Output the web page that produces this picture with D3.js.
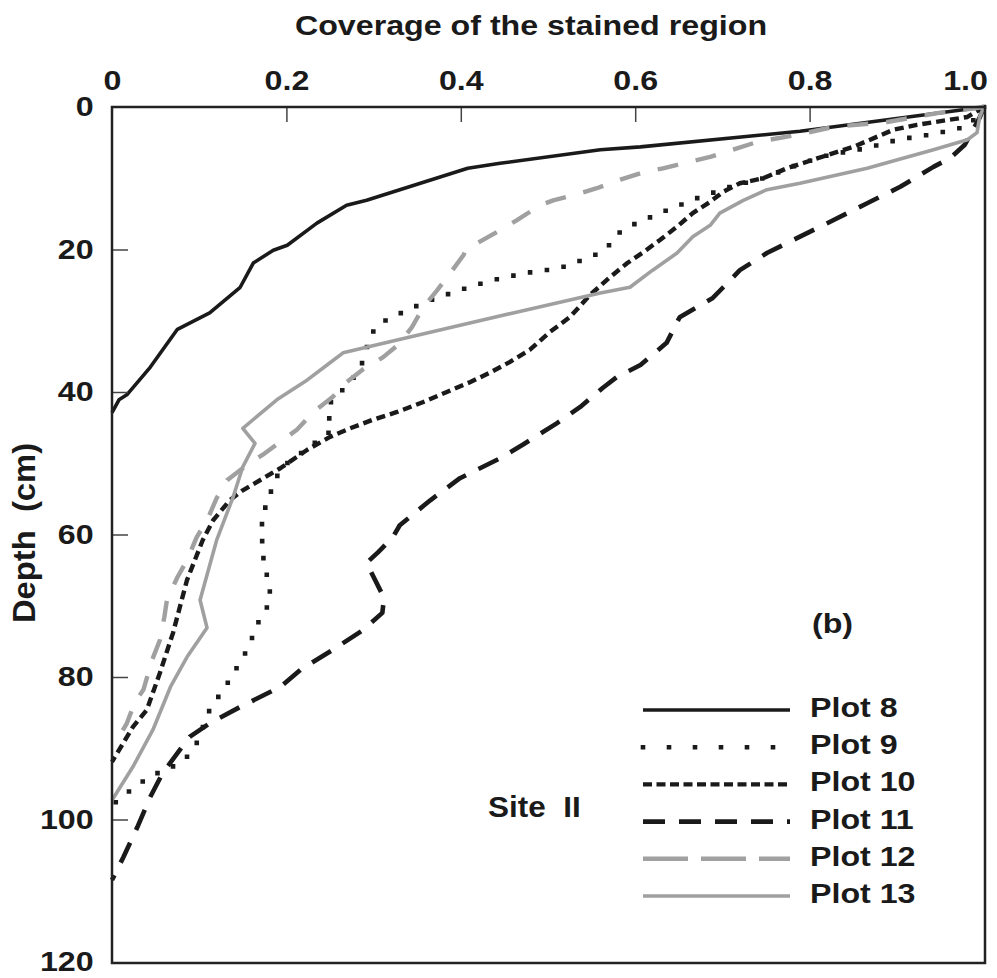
<!DOCTYPE html>
<html>
<head>
<meta charset="utf-8">
<script src="https://cdn.jsdelivr.net/npm/d3@7"></script>
<style>
  body { margin: 0; background: #fff; }
  text { font-family: "Liberation Sans", Arial, sans-serif; font-weight: bold; fill: #1a1a1a; }
</style>
</head>
<body>
<div id="chart"></div>
<script>
// tick labels
var coverageTicks = [0, 0.2, 0.4, 0.6, 0.8, 1.0];
var depthTicks = [0, 20, 40, 60, 80, 100, 120];
var plotNames = ["Plot 8", "Plot 9", "Plot 10", "Plot 11", "Plot 12", "Plot 13"];

// [coverage, depth (cm)]
var plot8 = [[1.000,0],[0.789,3.4],[0.606,5.6],[0.560,6.0],[0.445,7.9],[0.408,8.6],[0.292,13.1],[0.269,13.8],[0.235,16.3],[0.201,19.4],[0.185,20.1],[0.162,21.9],[0.147,25.3],[0.112,28.9],[0.075,31.2],[0.044,36.5],[0.017,40.4],[0.008,41.1],[0,42.9]];
var plot9 = [[1.000,0],[0.995,0.8],[0.982,2.7],[0.942,3.8],[0.901,4.6],[0.864,5.8],[0.823,6.7],[0.786,8.1],[0.747,10.0],[0.709,11.2],[0.671,12.8],[0.632,14.7],[0.596,16.6],[0.577,18.0],[0.568,19.8],[0.552,20.9],[0.514,22.6],[0.474,23.3],[0.433,24.4],[0.396,25.8],[0.357,27.5],[0.321,29.5],[0.304,30.6],[0.294,32.7],[0.290,35.1],[0.282,37.2],[0.269,39.3],[0.253,40.8],[0.247,42.8],[0.253,45.3],[0.193,50.7],[0.185,53.2],[0.178,55.2],[0.172,58.0],[0.172,60.4],[0.173,62.9],[0.181,67.8],[0.181,69.6],[0.170,71.7],[0.155,76.2],[0.135,80.4],[0.112,84.6],[0.097,89.3],[0.086,91.2],[0.067,92.8],[0.052,93.5],[0.032,94.9],[0.017,96.3],[0,98.0]];
var plot10 = [[1.000,0],[0.981,1.4],[0.923,2.5],[0.896,3.2],[0.850,5.6],[0.804,7.4],[0.774,8.6],[0.747,10.0],[0.720,10.7],[0.701,11.9],[0.686,13.3],[0.666,14.9],[0.648,16.8],[0.628,18.7],[0.609,20.4],[0.591,21.9],[0.571,23.9],[0.548,26.4],[0.525,29.5],[0.502,31.6],[0.479,34.1],[0.456,35.8],[0.433,37.3],[0.411,38.6],[0.384,40.0],[0.357,41.4],[0.327,42.8],[0.299,43.9],[0.273,45.1],[0.250,46.3],[0.224,48.1],[0.193,50.7],[0.150,53.8],[0.135,55.2],[0.116,58.0],[0.104,60.8],[0.086,66.4],[0.070,73.8],[0.055,79.4],[0.040,84.6],[0.024,87.0],[0,91.9]];
var plot11 = [[1.000,0],[0.995,1.5],[0.986,3.5],[0.978,5.3],[0.961,7.2],[0.942,8.4],[0.904,11.2],[0.866,13.5],[0.827,15.9],[0.789,18.2],[0.751,20.5],[0.720,22.9],[0.701,25.3],[0.689,26.8],[0.651,29.5],[0.636,33.1],[0.606,36.2],[0.579,37.9],[0.563,39.4],[0.537,42.1],[0.510,44.4],[0.471,47.4],[0.445,49.3],[0.399,52.1],[0.365,55.2],[0.330,58.7],[0.322,60.4],[0.305,62.5],[0.292,64.0],[0.312,68.9],[0.310,71.0],[0.288,73.4],[0.253,76.2],[0.216,79.0],[0.193,81.4],[0.147,84.2],[0.112,86.5],[0.089,88.4],[0.078,90.2],[0.058,93.5],[0.044,96.8],[0.029,101.1],[0.013,105.3],[0,108.5]];
var plot12 = [[1.000,0],[0.950,0.8],[0.889,2.1],[0.827,2.8],[0.786,3.9],[0.740,4.9],[0.686,7.0],[0.632,8.6],[0.606,9.3],[0.583,10.2],[0.556,11.4],[0.537,12.1],[0.506,13.1],[0.491,13.8],[0.464,15.9],[0.445,17.3],[0.419,19.1],[0.407,19.8],[0.403,20.8],[0.388,23.3],[0.373,25.7],[0.357,28.1],[0.344,30.9],[0.328,33.4],[0.311,35.1],[0.287,36.9],[0.269,38.6],[0.253,40.7],[0.231,42.8],[0.212,45.3],[0.193,47.0],[0.173,48.8],[0.155,50.2],[0.132,52.4],[0.120,54.9],[0.109,58.0],[0.097,60.4],[0.086,63.6],[0.075,66.0],[0.063,69.2],[0.060,71.6],[0.055,74.8],[0.046,77.6],[0.036,81.8],[0.026,83.6],[0.017,86.5],[0.006,88.8],[0,89.5]];
var plot13 = [[1.000,0],[0.995,1.4],[0.992,3.6],[0.981,4.6],[0.942,6.0],[0.866,8.6],[0.789,10.7],[0.751,11.6],[0.724,13.1],[0.697,14.9],[0.686,16.6],[0.666,18.2],[0.648,20.5],[0.620,22.9],[0.594,25.3],[0.560,26.1],[0.525,27.1],[0.460,28.9],[0.414,30.2],[0.365,31.6],[0.327,32.7],[0.265,34.5],[0.250,35.9],[0.224,38.3],[0.189,41.1],[0.150,45.1],[0.164,47.2],[0.150,50.5],[0.139,54.7],[0.120,60.8],[0.101,69.2],[0.109,73.1],[0.086,77.2],[0.067,81.4],[0.047,87.4],[0.024,92.6],[0,97.3]];

var svgWidth = 997;
var svgHeight = 978;
var stretch = 1.15; // the figure's lettering is a bit wider than Arial

var svg = d3.select("#chart")
  .append("svg")
  .attr("width", svgWidth)
  .attr("height", svgHeight);

var x = d3.scaleLinear().domain([0, 1]).range([112, 984]);
var y = d3.scaleLinear().domain([0, 120]).range([107, 962]);

// line styles: plot line / legend line
var styles = [
  { color: "#1a1a1a", width: 3.6, dash: null, legendDash: null, cap: "butt" },
  { color: "#1a1a1a", width: 4.6, dash: "0 17", legendDash: "0 26", cap: "square" },
  { color: "#1a1a1a", width: 4.4, dash: "9 5", legendDash: "9 4.5", cap: "butt" },
  { color: "#1a1a1a", width: 4.6, dash: "22 14", legendDash: "22 14", cap: "butt" },
  { color: "#a0a0a0", width: 4.4, dash: "21 18", legendDash: "45 13", cap: "butt" },
  { color: "#a0a0a0", width: 3.6, dash: null, legendDash: null, cap: "butt" }
];
var series = [plot8, plot9, plot10, plot11, plot12, plot13];

var line = d3.line()
  .x(d => x(d[0]))
  .y(d => y(d[1]));

svg.selectAll("path.series")
  .data(series)
  .enter()
  .append("path")
  .attr("class", "series")
  .attr("d", line)
  .attr("fill", "none")
  .attr("stroke", (d, i) => styles[i].color)
  .attr("stroke-width", (d, i) => styles[i].width)
  .attr("stroke-dasharray", (d, i) => styles[i].dash)
  .attr("stroke-linecap", (d, i) => styles[i].cap)
  .attr("stroke-linejoin", "round");

// inner tick marks
svg.append("g")
  .attr("transform", `translate(0, ${y(0)})`)
  .call(d3.axisTop(x).tickValues(coverageTicks.slice(1, -1)).tickSize(-15).tickFormat(""))
  .call(g => g.select(".domain").remove())
  .selectAll("line").attr("stroke", "#444").attr("stroke-width", 1.5);

svg.append("g")
  .attr("transform", `translate(${x(0)}, 0)`)
  .call(d3.axisLeft(y).tickValues(depthTicks.slice(1, -1)).tickSize(-16).tickFormat(""))
  .call(g => g.select(".domain").remove())
  .selectAll("line").attr("stroke", "#444").attr("stroke-width", 1.5);

// tick labels
var topAxis = svg.append("g")
  .attr("transform", `translate(0, ${y(0)})`)
  .call(d3.axisTop(x).tickValues(coverageTicks).tickSize(0).tickPadding(17)
    .tickFormat(d => d === 0 ? "0" : d3.format(".1f")(d)));
topAxis.select(".domain").remove();
topAxis.selectAll("text")
  .attr("font-size", 28)
  .attr("font-family", "Liberation Sans, Arial, sans-serif")
  .attr("font-weight", "bold")
  .attr("fill", "#1a1a1a")
  .attr("transform", `scale(${stretch},1)`)
  .filter(d => d === 1)
  .attr("text-anchor", "end")
  .attr("x", 3);

var leftAxis = svg.append("g")
  .attr("transform", `translate(${x(0)}, 0)`)
  .call(d3.axisLeft(y).tickValues(depthTicks).tickSize(0).tickPadding(16));
leftAxis.select(".domain").remove();
leftAxis.selectAll("text")
  .attr("font-size", 28)
  .attr("font-family", "Liberation Sans, Arial, sans-serif")
  .attr("font-weight", "bold")
  .attr("fill", "#1a1a1a")
  .attr("transform", `scale(${stretch},1)`);

// frame
svg.append("rect")
  .attr("x", x(0))
  .attr("y", y(0))
  .attr("width", x(1) - x(0) + 1)
  .attr("height", y(120) - y(0) + 1)
  .attr("fill", "none")
  .attr("stroke", "#222")
  .attr("stroke-width", 2.5);

// axis titles
svg.append("text")
  .attr("transform", `translate(531, 35) scale(${stretch},1)`)
  .attr("text-anchor", "middle")
  .attr("font-size", 28)
  .text("Coverage of the stained region");

svg.append("text")
  .attr("transform", `translate(35, 533) rotate(-90) scale(1.17,${stretch})`)
  .attr("text-anchor", "middle")
  .attr("font-size", 28)
  .style("white-space", "pre")
  .text("Depth  (cm)");

svg.append("text")
  .attr("transform", `translate(812, 633) scale(${stretch},1)`)
  .attr("font-size", 28)
  .text("(b)");

svg.append("text")
  .attr("transform", `translate(488, 817) scale(1.05,1)`)
  .attr("font-size", 30)
  .style("white-space", "pre")
  .text("Site  II");

// legend
var legend = svg.selectAll("g.legend")
  .data(plotNames)
  .enter()
  .append("g")
  .attr("class", "legend")
  .attr("transform", (d, i) => `translate(0, ${717 + i * 37.2})`);

legend.append("line")
  .attr("x1", 643)
  .attr("x2", 790)
  .attr("y1", -7)
  .attr("y2", -7)
  .attr("stroke", (d, i) => styles[i].color)
  .attr("stroke-width", (d, i) => styles[i].width)
  .attr("stroke-dasharray", (d, i) => styles[i].legendDash)
  .attr("stroke-linecap", (d, i) => styles[i].cap);

legend.append("text")
  .attr("transform", `translate(810, 0) scale(${stretch},1)`)
  .attr("font-size", 28)
  .text(d => d);
</script>
</body>
</html>
